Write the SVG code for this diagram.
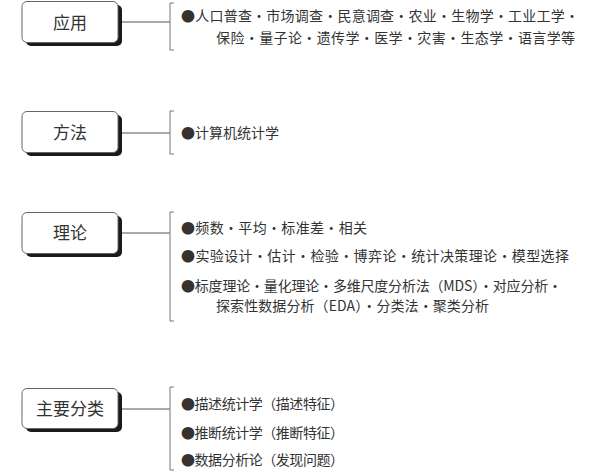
<svg xmlns="http://www.w3.org/2000/svg" width="600" height="474" viewBox="0 0 600 474">
<style>
.shadow{fill:#1a1a1a}
.box{fill:#ffffff;stroke:#666666;stroke-width:1}
.lbl{font-family:"Noto Sans CJK SC","Noto Sans",sans-serif;font-size:17px;fill:#333333;text-anchor:middle}
.item{font-family:"Noto Sans CJK SC","Noto Sans",sans-serif;font-size:14px;fill:#333333}
.conn{stroke:#555555;stroke-width:1;fill:none}
.brk{stroke:#777777;stroke-width:1;fill:none}
</style>
<rect width="600" height="474" fill="#ffffff"/>
<g id="connectors">
<line class="conn" x1="118" y1="22" x2="170" y2="22"/>
<line class="conn" x1="118" y1="133" x2="170" y2="133"/>
<line class="conn" x1="118" y1="233" x2="170" y2="233"/>
<line class="conn" x1="118" y1="409" x2="170" y2="409"/>
<path class="brk" d="M174,3 H170 V50 H174"/>
<path class="brk" d="M174,111 H170 V154 H174"/>
<path class="brk" d="M174,212 H170 V321 H174"/>
<path class="brk" d="M174,387 H170 V470 H174"/>
</g>
<g id="node-yingyong">
<rect class="shadow" x="26" y="5" width="96" height="41" rx="5"/>
<rect class="box" x="22" y="1.5" width="96" height="41" rx="5"/>
<text class="lbl" x="70" y="28.5">应用</text>
</g>
<g id="node-fangfa">
<rect class="shadow" x="26" y="115" width="96" height="41" rx="5"/>
<rect class="box" x="22" y="111.5" width="96" height="41" rx="5"/>
<text class="lbl" x="70" y="139">方法</text>
</g>
<g id="node-lilun">
<rect class="shadow" x="26" y="216" width="96" height="41" rx="5"/>
<rect class="box" x="22" y="212.5" width="96" height="41" rx="5"/>
<text class="lbl" x="70" y="239">理论</text>
</g>
<g id="node-zhuyaofenlei">
<rect class="shadow" x="26" y="392" width="96" height="40" rx="5"/>
<rect class="box" x="22" y="388.5" width="96" height="40" rx="5"/>
<text class="lbl" x="70" y="415">主要分类</text>
</g>
<g id="items-yingyong">
<text class="item" x="181" y="21" textLength="398" lengthAdjust="spacing">●人口普查・市场调查・民意调查・农业・生物学・工业工学・</text>
<text class="item" x="216" y="43" textLength="359" lengthAdjust="spacing">保险・量子论・遗传学・医学・灾害・生态学・语言学等</text>
</g>
<g id="items-fangfa">
<text class="item" x="181" y="138" textLength="98" lengthAdjust="spacing">●计算机统计学</text>
</g>
<g id="items-lilun">
<text class="item" x="181" y="233" textLength="186" lengthAdjust="spacing">●频数・平均・标准差・相关</text>
<text class="item" x="181" y="261" textLength="388" lengthAdjust="spacing">●实验设计・估计・检验・博弈论・统计决策理论・模型选择</text>
<text class="item" x="181" y="291" textLength="381" lengthAdjust="spacing">●标度理论・量化理论・多维尺度分析法（MDS）・对应分析・</text>
<text class="item" x="216" y="311" textLength="273" lengthAdjust="spacing">探索性数据分析（EDA）・分类法・聚类分析</text>
</g>
<g id="items-zhuyaofenlei">
<text class="item" x="181" y="409" textLength="163" lengthAdjust="spacing">●描述统计学（描述特征）</text>
<text class="item" x="181" y="438" textLength="163" lengthAdjust="spacing">●推断统计学（推断特征）</text>
<text class="item" x="181" y="465" textLength="163" lengthAdjust="spacing">●数据分析论（发现问题）</text>
</g>
</svg>
